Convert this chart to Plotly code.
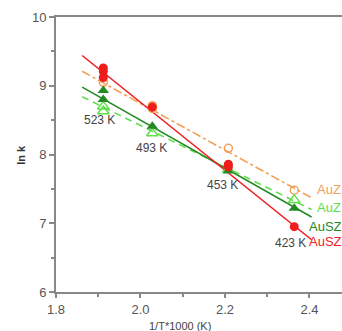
import plotly.graph_objects as go

# ---- data ----
x_523 = 1.912
x_493 = 2.028
x_453 = 2.208
x_423 = 2.364

# AuZ (orange, open circles, dash-dot fit)
auz_o_x = [x_523, x_493, x_493, x_453, x_423]
auz_o_y = [9.05, 8.71, 8.67, 8.09, 7.48]
# AuZ (light green, open triangles, dashed fit)
auz_g_x = [x_523, x_523, x_493, x_453, x_423]
auz_g_y = [8.70, 8.63, 8.31, 7.78, 7.34]
# AuSZ (dark green, filled triangles, solid fit)
ausz_g_x = [x_523, x_523, x_493, x_453, x_423]
ausz_g_y = [8.93, 8.80, 8.41, 7.76, 7.22]
# AuSZ (red, filled circles, solid fit)
ausz_r_x = [x_523, x_523, x_523, x_493, x_453, x_453, x_423]
ausz_r_y = [9.26, 9.21, 9.12, 8.69, 7.86, 7.82, 6.95]

fit_x = [1.862, 2.405]
fit_auz_o = [9.21, 7.37]
fit_auz_g = [8.84, 7.20]
fit_ausz_g = [8.98, 7.09]
fit_ausz_r = [9.44, 6.76]

temp_labels = ["523 K", "493 K", "453 K", "423 K"]
temp_label_x = [1.902, 2.025, 2.195, 2.354]
temp_label_y = [8.50, 8.09, 7.56, 6.72]

legend_names = ["AuZ", "AuZ", "AuSZ", "AuSZ"]
legend_y = [7.49, 7.23, 6.95, 6.73]
legend_x = [2.417, 2.417, 2.398, 2.398]

c_orange = "#f2a055"
c_lgreen = "#5ee04a"
c_dgreen = "#248a24"
c_red = "#ee1c1c"
colors = [c_orange, c_lgreen, c_dgreen, c_red]

fig = go.Figure()

# fit lines
fig.add_trace(go.Scatter(x=fit_x, y=fit_auz_o, mode="lines",
                         line=dict(color=c_orange, width=1.6, dash="dashdot"), showlegend=False))
fig.add_trace(go.Scatter(x=fit_x, y=fit_auz_g, mode="lines",
                         line=dict(color=c_lgreen, width=1.6, dash="7px,5px"), showlegend=False))
fig.add_trace(go.Scatter(x=fit_x, y=fit_ausz_g, mode="lines",
                         line=dict(color=c_dgreen, width=1.6), showlegend=False))
fig.add_trace(go.Scatter(x=fit_x, y=fit_ausz_r, mode="lines",
                         line=dict(color=c_red, width=1.6), showlegend=False))

# markers
fig.add_trace(go.Scatter(x=auz_o_x, y=auz_o_y, mode="markers",
                         marker=dict(symbol="circle-open", size=8, color=c_orange, line=dict(width=1.5)),
                         showlegend=False))
fig.add_trace(go.Scatter(x=auz_g_x, y=auz_g_y, mode="markers",
                         marker=dict(symbol="triangle-up-open", size=10, color=c_lgreen, line=dict(width=1.5)),
                         showlegend=False))
fig.add_trace(go.Scatter(x=ausz_g_x, y=ausz_g_y, mode="markers",
                         marker=dict(symbol="triangle-up", size=10, color=c_dgreen),
                         showlegend=False))
fig.add_trace(go.Scatter(x=ausz_r_x, y=ausz_r_y, mode="markers",
                         marker=dict(symbol="circle", size=9, color=c_red),
                         showlegend=False))

annotations = []
for t, tx, ty in zip(temp_labels, temp_label_x, temp_label_y):
    annotations.append(dict(x=tx, y=ty, text=t, showarrow=False, xanchor="center", yanchor="middle",
                            font=dict(size=12, color="#444444", family="Liberation Sans, Arial")))
for n, lx, ly, c in zip(legend_names, legend_x, legend_y, colors):
    annotations.append(dict(x=lx, y=ly, text=n, showarrow=False, xanchor="left", yanchor="middle",
                            xshift=-2, font=dict(size=13, color=c, family="Liberation Sans, Arial")))
annotations.append(dict(x=0.435, y=-0.095, xref="paper", yref="paper", text="1/T*1000 (K)", showarrow=False,
                        xanchor="center", yanchor="top",
                        font=dict(size=11, color="#444444", family="Liberation Sans, Arial")))
annotations.append(dict(x=-0.125, y=0.5, xref="paper", yref="paper", text="<b>ln k</b>", showarrow=False,
                        textangle=-90, xanchor="center", yanchor="middle",
                        font=dict(size=11, color="#333333", family="Liberation Sans, Arial")))

fig.update_layout(
    width=342, height=331,
    margin=dict(l=56, r=0, t=17, b=39, autoexpand=False),
    paper_bgcolor="white", plot_bgcolor="white",
    annotations=annotations,
    xaxis=dict(range=[1.8, 2.477], tickvals=[1.8, 2.0, 2.2, 2.4], ticktext=["1.8", "2.0", "2.2", "2.4"],
               automargin=False,
               showgrid=False, zeroline=False, showline=True, linecolor="#888888", linewidth=2,
               mirror=True, ticks="outside", ticklen=4, tickcolor="#888888", tickwidth=1.5,
               minor=dict(tickvals=[1.9, 2.1, 2.3], ticks="outside", ticklen=3, tickcolor="#888888"),
               tickfont=dict(size=13, color="#555555", family="Liberation Sans, Arial")),
    yaxis=dict(range=[6, 10], tickvals=[6, 7, 8, 9, 10], automargin=False,
               showgrid=False, zeroline=False, showline=True, linecolor="#888888", linewidth=2,
               ticks="outside", ticklen=5, tickcolor="#888888", tickwidth=1.5,
               minor=dict(tickvals=[6.5, 7.5, 8.5, 9.5], ticks="outside", ticklen=3, tickcolor="#888888"),
               tickfont=dict(size=13, color="#555555", family="Liberation Sans, Arial")),
)

fig.write_html("out.html", config={"displayModeBar": False},
               post_script="document.body.style.margin='0px';document.body.style.overflow='hidden';")
